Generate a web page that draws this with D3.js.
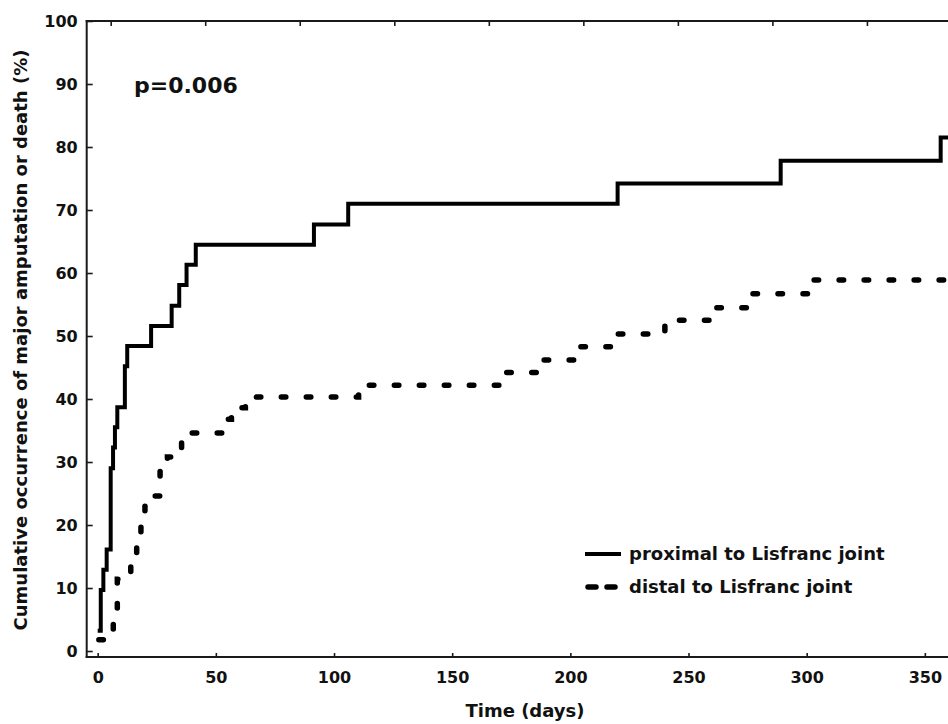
<!DOCTYPE html>
<html>
<head>
<meta charset="utf-8">
<script src="https://cdn.jsdelivr.net/npm/d3@7"></script>
<style>
  body { margin: 0; background: #fff; }
  svg text { font-family: "DejaVu Sans", Verdana, sans-serif; font-weight: bold; fill: #111; }
</style>
</head>
<body>
<div id="chart"></div>
<script>
// step curves (days, cumulative %)
const proxDays   = [0, 1.3, 2.4, 3.8, 5.5, 6.5, 7.3, 8.3, 11.5, 12.5, 22.6, 31.3, 34.5, 37.6, 41.5, 91.5, 106, 220, 289, 356.7, 365];
const proxValues = [3.2, 9.7, 12.9, 16.1, 29.0, 32.3, 35.5, 38.7, 45.2, 48.4, 51.6, 54.8, 58.1, 61.3, 64.5, 67.7, 71.0, 74.2, 77.8, 81.5, 81.5];

const distDays   = [0.5, 6.6, 8.3, 14.0, 16.5, 18.3, 20.0, 26.4, 29.5, 35.5, 53.5, 56.6, 62.5, 110.4, 171, 188, 203, 217.5, 240, 260, 276, 303, 365];
const distValues = [1.8, 5.3, 11.4, 14.0, 17.5, 21.0, 24.6, 28.6, 30.8, 34.6, 36.8, 38.6, 40.3, 42.2, 44.2, 46.2, 48.3, 50.3, 52.5, 54.5, 56.7, 58.9, 58.9];

const xTicks = [0, 50, 100, 150, 200, 250, 300, 350];
const topTicks = [5.5, 45.5, 85.5, 125.5, 165.5, 205.5, 245.5, 285.5, 325.5];
const yTicks = [0, 10, 20, 30, 40, 50, 60, 70, 80, 90, 100];

const seriesNames = ["proximal to Lisfranc joint", "distal to Lisfranc joint"];
const pText = "p=0.006";

const W = 948, H = 724;
const plotLeft = 86.7, plotRight = 948, plotTop = 21, plotBottom = 657;

const svg = d3.select("#chart").append("svg")
    .attr("width", W)
    .attr("height", H);

const x = d3.scaleLinear([-4.65, 359.8], [plotLeft, plotRight]);
const y = d3.scaleLinear([-0.95, 100], [plotBottom, plotTop]);

svg.append("defs").append("clipPath")
    .attr("id", "plotclip")
    .append("rect")
    .attr("x", plotLeft).attr("y", plotTop - 5)
    .attr("width", plotRight - plotLeft).attr("height", plotBottom - plotTop + 5);

// axes
const yAxis = svg.append("g")
    .attr("transform", `translate(${plotLeft},0)`)
    .call(d3.axisLeft(y).tickValues(yTicks).tickSizeInner(-6).tickSizeOuter(0).tickPadding(9));

const xAxis = svg.append("g")
    .attr("transform", `translate(0,${plotBottom})`)
    .call(d3.axisBottom(x).tickValues(xTicks).tickSizeInner(-4).tickSizeOuter(0).tickPadding(15));

const topAxis = svg.append("g")
    .attr("transform", `translate(0,${plotTop})`)
    .call(d3.axisTop(x).tickValues(topTicks).tickSizeInner(-5).tickSizeOuter(0).tickFormat(""));

[yAxis, xAxis, topAxis].forEach(g => {
    g.select(".domain").attr("stroke", "#1a1a1a").attr("stroke-width", 2);
    g.selectAll(".tick line").attr("stroke", "#1a1a1a").attr("stroke-width", 1.6);
    g.selectAll(".tick text")
        .attr("font-size", 16)
        .attr("font-family", "DejaVu Sans")
        .attr("font-weight", "bold")
        .attr("fill", "#111");
});
yAxis.select(".domain").attr("d", `M0,${plotTop - 1}V${plotBottom + 1}`);
xAxis.select(".domain").attr("d", `M${plotLeft - 1},0H${plotRight}`);
topAxis.select(".domain").attr("d", `M${plotLeft - 1},0H${plotRight}`);

// curves
const stepLine = d3.line()
    .x(d => x(d[0]))
    .y(d => y(d[1]))
    .curve(d3.curveStepAfter);

const plot = svg.append("g").attr("clip-path", "url(#plotclip)");

plot.append("path")
    .datum(proxDays.map((d, i) => [d, proxValues[i]]))
    .attr("fill", "none")
    .attr("stroke", "#000")
    .attr("stroke-width", 4)
    .attr("d", stepLine);

plot.append("path")
    .datum(distDays.map((d, i) => [d, distValues[i]]))
    .attr("fill", "none")
    .attr("stroke", "#000")
    .attr("stroke-width", 5.5)
    .attr("stroke-linecap", "round")
    .attr("stroke-dasharray", "4.5 20.5")
    .attr("d", stepLine);

// p value
svg.append("text")
    .attr("x", 134)
    .attr("y", 93)
    .attr("font-size", 22)
    .text(pText);

// legend
const legend = svg.append("g");
legend.append("line")
    .attr("x1", 585).attr("x2", 621)
    .attr("y1", 554).attr("y2", 554)
    .attr("stroke", "#000").attr("stroke-width", 4);
legend.append("line")
    .attr("x1", 588).attr("x2", 619)
    .attr("y1", 587).attr("y2", 587)
    .attr("stroke", "#000").attr("stroke-width", 5.5)
    .attr("stroke-linecap", "round")
    .attr("stroke-dasharray", "8 11");
legend.selectAll("text.leg")
    .data(seriesNames)
    .join("text")
    .attr("class", "leg")
    .attr("x", 629)
    .attr("y", (d, i) => 554 + i * 33)
    .attr("dy", "0.36em")
    .attr("font-size", 18)
    .text(d => d);

// axis titles
svg.append("text")
    .attr("transform", `translate(${27},${340}) rotate(-90)`)
    .attr("text-anchor", "middle")
    .attr("font-size", 18)
    .text("Cumulative occurrence of major amputation or death (%)");

svg.append("text")
    .attr("x", 525)
    .attr("y", 717)
    .attr("text-anchor", "middle")
    .attr("font-size", 18)
    .text("Time (days)");
</script>
</body>
</html>
